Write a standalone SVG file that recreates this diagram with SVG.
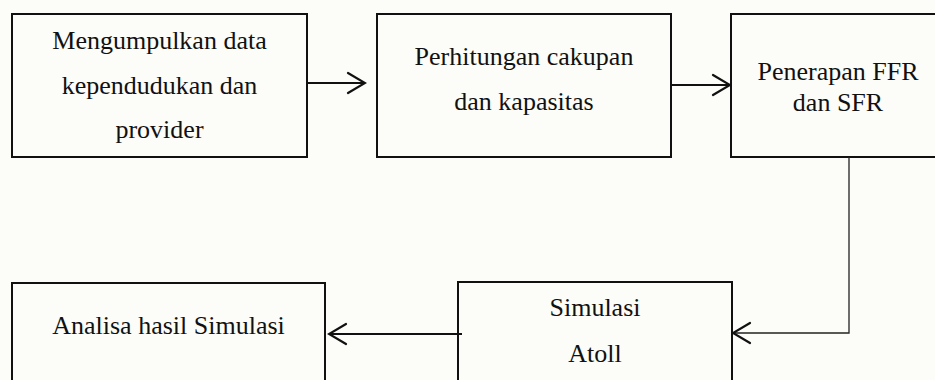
<svg xmlns="http://www.w3.org/2000/svg" width="935" height="380" viewBox="0 0 935 380">
  <defs>
    <style>
      .box { fill: none; stroke: #111; stroke-width: 2; }
      .lbl { font-family: "Liberation Serif", "Times New Roman", serif; font-size: 26px; fill: #111; text-anchor: middle; }
      .lbl-s { font-family: "Liberation Serif", "Times New Roman", serif; font-size: 24px; fill: #111; text-anchor: middle; }
      .flow { fill: none; stroke: #111; stroke-width: 2; }
      .flow-thin { fill: none; stroke: #222; stroke-width: 1.3; }
    </style>
    <marker id="chev" markerUnits="userSpaceOnUse" viewBox="-20 -12 22 24" refX="0" refY="0" markerWidth="22" markerHeight="24" orient="auto">
      <path d="M-17,-10 L0,0 L-17,10" fill="none" stroke="#111" stroke-width="2.2" stroke-linecap="round" stroke-linejoin="miter"/>
    </marker>
  </defs>

  <rect x="0" y="0" width="935" height="380" fill="#fcfcf8"/>

  <g id="node-mengumpulkan">
    <rect class="box" x="12" y="14" width="295" height="143"/>
    <text class="lbl" x="159.5" y="49">Mengumpulkan data</text>
    <text class="lbl" x="159.5" y="94">kependudukan dan</text>
    <text class="lbl" x="159.5" y="138">provider</text>
  </g>

  <g id="node-perhitungan">
    <rect class="box" x="377" y="14" width="294" height="143"/>
    <text class="lbl" x="524" y="65">Perhitungan cakupan</text>
    <text class="lbl" x="524" y="110">dan kapasitas</text>
  </g>

  <g id="node-penerapan">
    <rect class="box" x="731" y="14" width="214" height="143"/>
    <text class="lbl" x="838" y="80">Penerapan FFR</text>
    <text class="lbl" x="838" y="111">dan SFR</text>
  </g>

  <g id="node-simulasi">
    <rect class="box" x="458" y="282" width="274" height="120"/>
    <text class="lbl" x="595" y="316">Simulasi</text>
    <text class="lbl" x="595" y="362">Atoll</text>
  </g>

  <g id="node-analisa">
    <rect class="box" x="12" y="283" width="313" height="120"/>
    <text class="lbl" x="168.5" y="334">Analisa hasil Simulasi</text>
  </g>

  <g id="connectors">
    <line class="flow" x1="307" y1="83" x2="365" y2="83" marker-end="url(#chev)"/>
    <line class="flow" x1="671" y1="85" x2="730" y2="85" marker-end="url(#chev)"/>
    <polyline class="flow-thin" points="849,157 849,333 733,333" marker-end="url(#chev)"/>
    <line class="flow" x1="462" y1="334" x2="329" y2="334" marker-end="url(#chev)"/>
  </g>
</svg>
